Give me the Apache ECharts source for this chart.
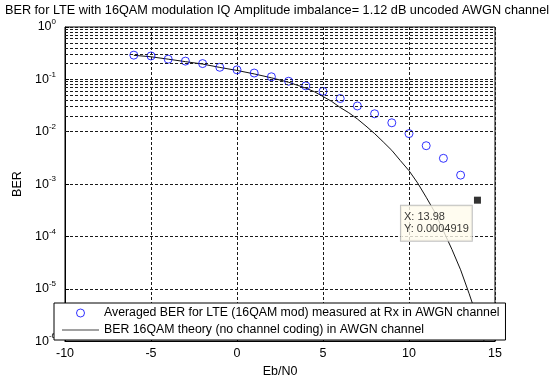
<!DOCTYPE html>
<html>
<head>
<meta charset="utf-8">
<style>
  html, body { margin: 0; padding: 0; background: #ffffff; }
  #chart { width: 554px; height: 383px; }
</style>
<script src="https://cdn.jsdelivr.net/npm/echarts@6/dist/echarts.min.js"></script>
</head>
<body>
<div id="chart"></div>
<script>
// ---- data ----
const chartTitle = 'BER for LTE with 16QAM modulation IQ Amplitude imbalance= 1.12 dB uncoded AWGN channel';
const xAxisName = 'Eb/N0';
const yAxisName = 'BER';
const xTicks = [-10, -5, 0, 5, 10, 15];
const yDecades = [-6, -5, -4, -3, -2, -1, 0];

const measName = 'Averaged BER for LTE (16QAM mod) measured at Rx in AWGN channel';
const measEbN0 = [-6, -5, -4, -3, -2, -1, 0, 1, 2, 3, 4, 5, 6, 7, 8, 9, 10, 11, 12, 13];
const measBER  = [0.29, 0.28, 0.243, 0.223, 0.20, 0.17, 0.152, 0.132, 0.112, 0.092,
                  0.075, 0.059, 0.043, 0.031, 0.022, 0.0148, 0.0092, 0.0054, 0.0031, 0.00148];

const theoryName = 'BER 16QAM theory (no channel coding) in AWGN channel';
const theoryEbN0 = [-6, -5, -4, -3, -2, -1, 0, 1, 2, 3, 4, 4.5, 5, 5.5, 6, 6.5, 7, 7.5, 8, 8.5,
                    9, 9.5, 10, 10.5, 11, 11.5, 12, 12.5, 13, 13.5, 14, 14.5];
const theoryBER  = [0.288, 0.27, 0.243, 0.218, 0.196, 0.169, 0.148, 0.127, 0.107, 0.088, 0.068, 0.058,
                    0.047, 0.038, 0.029, 0.023, 0.0175, 0.0128, 0.0092, 0.0064, 0.0044, 0.0028,
                    0.0018, 0.00105, 0.00056, 0.00029, 0.000128, 0.000056, 0.000023, 0.000008,
                    0.0000026, 0.0000007];

const tipX = 13.98;
const tipY = 0.0004919;

// minor log grid mantissas
const minorMantissas = [2, 3, 4, 5, 6, 7, 8, 9];

// ---- build ----
const FONT = "'Liberation Sans', Arial, sans-serif";
const minorLines = [];
yDecades.slice(0, -1).forEach(function (e) {
  minorMantissas.forEach(function (m) {
    minorLines.push({ yAxis: m * Math.pow(10, e) });
  });
});

const chart = echarts.init(document.getElementById('chart'), null, { renderer: 'canvas' });
const gridLine = { show: true, lineStyle: { color: '#1a1a1a', width: 1, type: [3, 2] } };

chart.setOption({
  animation: false,
  backgroundColor: '#ffffff',
  title: {
    text: chartTitle,
    left: 'center',
    top: -1,
    textStyle: { fontFamily: FONT, fontSize: 12.7, fontWeight: 'normal', color: '#000' }
  },
  grid: {
    left: 65, right: 59, top: 27, bottom: 34,
    show: true, borderColor: '#000', borderWidth: 1, backgroundColor: 'transparent'
  },
  legend: {
    orient: 'vertical',
    left: 54, top: 303,
    backgroundColor: '#ffffff',
    borderColor: '#000', borderWidth: 1, borderRadius: 0,
    padding: [4, 6, 4, 8],
    itemGap: 5,
    itemWidth: 37, itemHeight: 8,
    textStyle: { fontFamily: FONT, fontSize: 12.3, color: '#000' },
    data: [
      { name: measName, icon: 'circle',
        itemStyle: { color: '#ffffff', borderColor: '#0000ff', borderWidth: 1 } },
      { name: theoryName, icon: 'path://M0,0H37V1H0Z',
        itemStyle: { color: '#444444', borderWidth: 0 } }
    ],
    selectedMode: false
  },
  xAxis: {
    type: 'value',
    min: -10, max: 15, interval: 5,
    name: xAxisName, nameLocation: 'middle', nameGap: 20,
    nameTextStyle: { fontFamily: FONT, fontSize: 12.5, color: '#000' },
    axisLine: { show: true, onZero: false, lineStyle: { color: '#000' } },
    axisTick: { show: true, inside: true, length: 4, lineStyle: { color: '#000' } },
    axisLabel: {
      fontFamily: FONT, fontSize: 12.5, color: '#000', margin: 6
    },
    splitLine: gridLine
  },
  yAxis: {
    type: 'log', logBase: 10,
    min: 1e-6, max: 1, interval: 1, splitNumber: 6,
    name: yAxisName, nameLocation: 'middle', nameGap: 33, nameRotate: 90,
    nameTextStyle: { fontFamily: FONT, fontSize: 12.5, color: '#000' },
    axisLine: { show: true, onZero: false, lineStyle: { color: '#000' } },
    axisTick: { show: true, inside: true, length: 4, lineStyle: { color: '#000' } },
    axisLabel: {
      margin: 9,
      formatter: function (v) {
        const e = Math.round(Math.log10(v));
        return '{b|10}{s|' + e + '}';
      },
      rich: {
        b: { fontFamily: FONT, fontSize: 12.5, color: '#000' },
        s: { fontFamily: FONT, fontSize: 8, color: '#000', padding: [0, 0, 10, 0] }
      }
    },
    splitLine: gridLine
  },
  series: [
    {
      name: 'minorgrid',
      type: 'line',
      data: [],
      silent: true,
      z: 1,
      markLine: {
        silent: true,
        symbol: ['none', 'none'],
        label: { show: false },
        lineStyle: { color: '#1a1a1a', width: 1, type: [3, 2] },
        emphasis: { disabled: true },
        data: minorLines
      }
    },
    {
      name: theoryName,
      type: 'line',
      data: theoryEbN0.map(function (x, i) { return [x, theoryBER[i]]; }),
      symbol: 'none',
      showSymbol: false,
      lineStyle: { color: '#111', width: 1 },
      itemStyle: { color: '#111' },
      z: 3
    },
    {
      name: measName,
      type: 'scatter',
      data: measEbN0.map(function (x, i) { return [x, measBER[i]]; }),
      symbol: 'circle',
      symbolSize: 8,
      itemStyle: { color: 'rgba(0,0,0,0)', borderColor: '#0000ff', borderWidth: 1 },
      z: 4
    },
    {
      name: 'datatip',
      type: 'scatter',
      data: [[tipX, tipY]],
      symbol: 'rect',
      symbolSize: 7,
      itemStyle: { color: '#000' },
      z: 10,
      label: {
        show: true,
        position: [-73, 9],
        formatter: function (p) { return 'X: ' + p.value[0] + '\nY: ' + p.value[1]; },
        fontFamily: FONT, fontSize: 11, lineHeight: 12.5, color: '#000',
        backgroundColor: '#fffbec', borderColor: '#b0b0b0', borderWidth: 1,
        padding: [5, 3, 5, 3], align: 'left', verticalAlign: 'top'
      }
    }
  ]
});
</script>
</body>
</html>
